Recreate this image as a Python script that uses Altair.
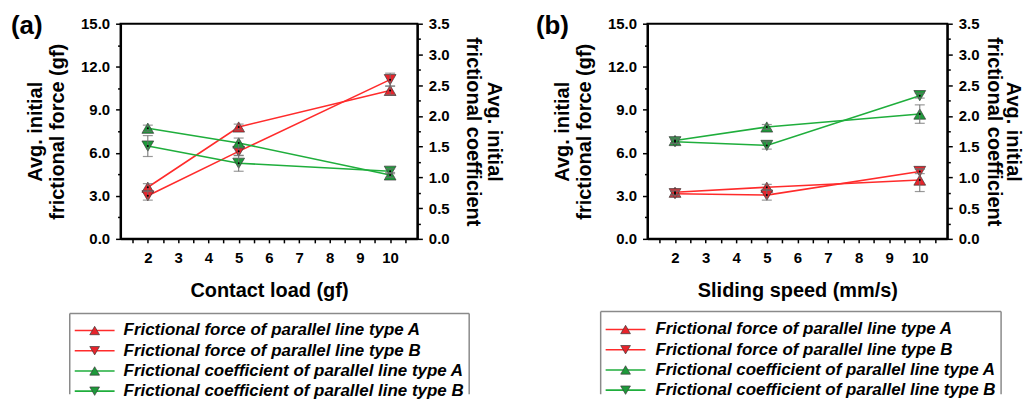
import altair as alt
import pandas as pd

# ---------------- data ----------------
x_vals = [2, 5, 10]
series_names = [
    "Frictional force of parallel line type A",
    "Frictional force of parallel line type B",
    "Frictional coefficient of parallel line type A",
    "Frictional coefficient of parallel line type B",
]

# panel (a): contact load (gf)
a_force_A = [3.6, 7.8, 10.35]
a_force_A_err = [0.25, 0.2, 0.3]
a_force_B = [3.0, 6.1, 11.1]
a_force_B_err = [0.3, 0.3, 0.45]
a_coef_A = [1.80, 1.56, 1.04]
a_coef_A_err = [0.05, 0.08, 0.04]
a_coef_B = [1.51, 1.23, 1.10]
a_coef_B_err = [0.17, 0.13, 0.04]

# panel (b): sliding speed (mm/s)
b_force_A = [3.25, 3.6, 4.1]
b_force_A_err = [0.15, 0.2, 0.8]
b_force_B = [3.15, 3.05, 4.7]
b_force_B_err = [0.15, 0.35, 0.15]
b_coef_A = [1.60, 1.82, 2.03]
b_coef_A_err = [0.04, 0.04, 0.15]
b_coef_B = [1.58, 1.52, 2.33]
b_coef_B_err = [0.03, 0.06, 0.04]

rows = []
for panel, groups in [
    ("a", [(a_force_A, a_force_A_err), (a_force_B, a_force_B_err), (a_coef_A, a_coef_A_err), (a_coef_B, a_coef_B_err)]),
    ("b", [(b_force_A, b_force_A_err), (b_force_B, b_force_B_err), (b_coef_A, b_coef_A_err), (b_coef_B, b_coef_B_err)]),
]:
    for name, (vals, errs) in zip(series_names, groups):
        for xv, v, e in zip(x_vals, vals, errs):
            rows.append({"panel": panel, "series": name, "x": xv, "value": v, "err": e})
df = pd.DataFrame(rows)
legend_df = pd.DataFrame({"series": series_names, "i": list(range(len(series_names)))})

# ---------------- styles ----------------
FONT = "Liberation Sans"
line_scale = alt.Scale(domain=series_names, range=["#ff2b2b", "#ff2b2b", "#1fae3c", "#1fae3c"])
fill_scale = alt.Scale(domain=series_names, range=["#e8232b", "#e8232b", "#1d9a3a", "#1d9a3a"])
shape_scale = alt.Scale(domain=series_names, range=["triangle-up", "triangle-down", "triangle-up", "triangle-down"])

x_ticks = [1.5 + 0.5 * k for k in range(19)]
yl_ticks = [1.5 * k for k in range(11)]
yr_ticks = [0.25 * k for k in range(15)]


def x_axis(title):
    return alt.Axis(
        values=x_ticks,
        labelExpr="(datum.value % 1 == 0 && datum.value >= 2 && datum.value <= 10) ? format(datum.value, 'd') : ''",
        labelOverlap=False,
        tickSize=4,
        labelPadding=8,
        title=title,
        titlePadding=15,
    )


axis_left = alt.Axis(
    values=yl_ticks,
    labelExpr="datum.value % 3 == 0 ? format(datum.value, '.1f') : ''",
    labelOverlap=False,
    orient="left",
    tickSize={"condition": {"test": "datum.value % 3 == 0", "value": 5}, "value": 3},
    labelPadding=6,
    title=["Avg. initial", "frictional force (gf)"],
    titlePadding=13,
    titleLineHeight=22,
)


def axis_right(pad, lh):
    return alt.Axis(
        values=yr_ticks,
        labelExpr="datum.value % 0.5 == 0 ? format(datum.value, '.1f') : ''",
        labelOverlap=False,
        orient="right",
        tickSize={"condition": {"test": "datum.value % 0.5 == 0", "value": 5}, "value": 3},
        labelPadding=6,
        title=["Avg. initial", "frictional coefficient"],
        titlePadding=pad,
        titleLineHeight=lh,
    )


def series_layer(data_filter, xtitle, yscale, yaxis):
    base = alt.Chart().transform_filter(data_filter).transform_calculate(
        lo="datum.value - datum.err", hi="datum.value + datum.err"
    )
    xenc = alt.X("x:Q", scale=alt.Scale(domain=[1.1, 10.9], nice=False, zero=False), axis=x_axis(xtitle))
    lines = base.mark_line(strokeWidth=1.6).encode(
        x=xenc,
        y=alt.Y("value:Q", scale=yscale, axis=yaxis),
        color=alt.Color("series:N", scale=line_scale, legend=None),
        detail="series:N",
    )
    pts = base.mark_point(filled=True, size=140, stroke="#3a3a3a", strokeWidth=0.7, opacity=1).encode(
        x=xenc,
        y=alt.Y("value:Q", scale=yscale, axis=yaxis),
        fill=alt.Fill("series:N", scale=fill_scale, legend=None),
        shape=alt.Shape("series:N", scale=shape_scale, legend=None),
    )
    bars = base.mark_rule(color="#6e6e6e", strokeWidth=1).encode(
        x=xenc,
        y=alt.Y("lo:Q", scale=yscale, axis=yaxis),
        y2="hi:Q",
    )
    cap_lo = base.mark_tick(orient="horizontal", size=10, thickness=1.2, color="#6e6e6e").encode(
        x=xenc, y=alt.Y("lo:Q", scale=yscale, axis=yaxis)
    )
    cap_hi = base.mark_tick(orient="horizontal", size=10, thickness=1.2, color="#6e6e6e").encode(
        x=xenc, y=alt.Y("hi:Q", scale=yscale, axis=yaxis)
    )
    dots = base.mark_point(filled=True, size=4, color="black", opacity=1).encode(
        x=xenc, y=alt.Y("value:Q", scale=yscale, axis=yaxis)
    )
    return alt.layer(lines, pts, bars, cap_lo, cap_hi, dots)


def legend_layers(line_x0, line_x1, marker_x, text_x, box_x0, box_x1, box_top, box_bottom, row0, step):
    ld = alt.Chart(legend_df).transform_calculate(ly=f"{row0} + {step} * datum.i")
    ly = alt.Y("ly:Q", scale=None, axis=None)
    seg = ld.mark_rule(strokeWidth=1.6).encode(
        x=alt.value(line_x0), x2=alt.value(line_x1), y=ly,
        color=alt.Color("series:N", scale=line_scale, legend=None),
    )
    mk = ld.mark_point(filled=True, size=95, stroke="#3a3a3a", strokeWidth=0.7, opacity=1).encode(
        x=alt.value(marker_x), y=ly,
        fill=alt.Fill("series:N", scale=fill_scale, legend=None),
        shape=alt.Shape("series:N", scale=shape_scale, legend=None),
    )
    txt = ld.mark_text(
        align="left", baseline="middle", font=FONT, fontSize=17, fontStyle="italic",
        fontWeight="bold", color="black",
    ).encode(x=alt.value(text_x), y=ly, text="series:N")
    one = alt.Data(values=[{"k": 1}])
    box_top_rule = alt.Chart(one).mark_rule(color="#8a8a8a", strokeWidth=1.5).encode(
        x=alt.value(box_x0), x2=alt.value(box_x1), y=alt.value(box_top)
    )
    box_left = alt.Chart(one).mark_rule(color="#8a8a8a", strokeWidth=1.5).encode(
        x=alt.value(box_x0), y=alt.value(box_top), y2=alt.value(box_bottom)
    )
    box_right = alt.Chart(one).mark_rule(color="#8a8a8a", strokeWidth=1.5).encode(
        x=alt.value(box_x1), y=alt.value(box_top), y2=alt.value(box_bottom)
    )
    return [box_top_rule, box_left, box_right, seg, mk, txt]


def panel(letter, xtitle, width, letter_x, raxis, leg):
    force = series_layer(
        f"datum.panel == '{letter}' && indexof(datum.series, 'force') >= 0",
        xtitle, alt.Scale(domain=[0, 15], nice=False, zero=True), axis_left,
    )
    coef = series_layer(
        f"datum.panel == '{letter}' && indexof(datum.series, 'coefficient') >= 0",
        xtitle, alt.Scale(domain=[0, 3.5], nice=False, zero=True), raxis,
    )
    tag = alt.Chart(alt.Data(values=[{"k": 1}])).mark_text(
        text=f"({letter})", align="left", baseline="middle", font=FONT, fontSize=26,
        fontWeight="bold", color="black",
    ).encode(x=alt.value(letter_x), y=alt.value(2))
    return alt.layer(force, coef, tag, *legend_layers(**leg), data=df).resolve_scale(
        y="independent"
    ).properties(width=width, height=216)


pa = panel("a", "Contact load (gf)", 298, -110, axis_right(13, 22),
           dict(line_x0=-46, line_x1=-6, marker_x=-26, text_x=3, box_x0=-51, box_x1=350,
                box_top=291, box_bottom=372, row0=308, step=20.3))
pb = panel("b", "Sliding speed (mm/s)", 301, -112, axis_right(4, 20),
           dict(line_x0=-42, line_x1=-2, marker_x=-22, text_x=8, box_x0=-47, box_x1=355,
                box_top=289, box_bottom=372, row0=307, step=20.3))

chart = alt.hconcat(pa, pb, spacing=30).properties(
    padding={"left": 2, "top": 3, "right": 0, "bottom": 0},
    background="white",
).configure_view(stroke="black", strokeWidth=2).configure_axis(
    grid=False,
    domainColor="black",
    domainWidth=2,
    tickColor="black",
    tickWidth=1.5,
    labelFont=FONT,
    labelFontWeight="bold",
    labelFontSize=15,
    labelColor="black",
    titleFont=FONT,
    titleFontWeight="bold",
    titleFontSize=20,
    titleColor="black",
)

chart.save("out.html", embed_options={"renderer": "svg", "actions": False})
